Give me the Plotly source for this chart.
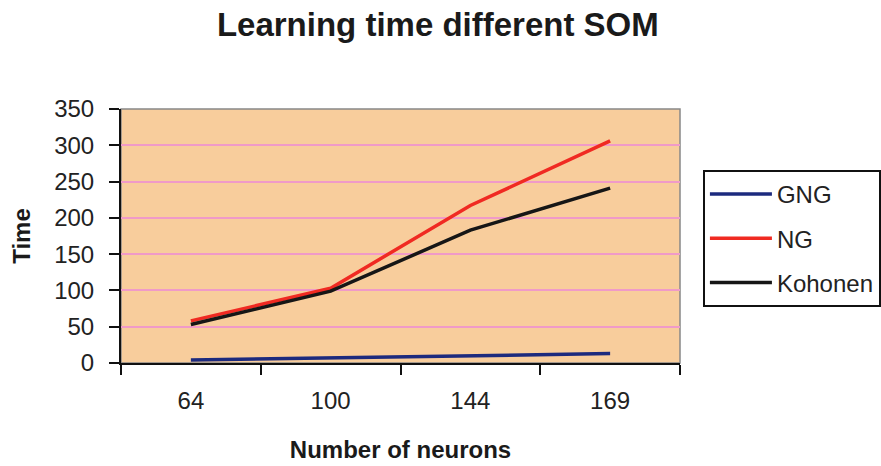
import plotly.graph_objects as go

neurons = ["64", "100", "144", "169"]
gng = [4, 7, 11, 13]
ng = [58, 103, 217, 306]
kohonen = [53, 99, 183, 241]
y_ticks = [0, 50, 100, 150, 200, 250, 300, 350]

fig = go.Figure()
series = [("GNG", gng, "#1c2a7e"), ("NG", ng, "#f02a22"), ("Kohonen", kohonen, "#161616")]
for i, (name, vals, col) in enumerate(series):
    fig.add_trace(go.Scatter(x=neurons, y=vals, name=name, mode="lines",
                             line=dict(color=col, width=3.5), legendgroup=str(i)))

font_family = "Liberation Sans, Arial, sans-serif"
fig.update_layout(
    width=881, height=466,
    margin=dict(l=121, r=201, t=109, b=103, autoexpand=False),
    paper_bgcolor="white",
    plot_bgcolor="#f8cd9c",
    title=dict(text="<b>Learning time different SOM</b>", x=0.497, xanchor="center",
               y=0.948, yanchor="middle",
               font=dict(family=font_family, size=33, color="#1a1a1a")),
    xaxis=dict(type="category", range=[-0.5, 3.5], tickson="boundaries",
               ticks="outside", ticklen=10, tickwidth=2, tickcolor="#111",
               ticklabelstandoff=15,
               showline=True, linecolor="#111", linewidth=2,
               showgrid=False, mirror=False,
               tickfont=dict(family=font_family, size=24, color="#222"),
               title=dict(text="<b>Number of neurons</b>", standoff=28,
                          font=dict(family=font_family, size=24, color="#1a1a1a"))),
    yaxis=dict(range=[0, 350], tickvals=y_ticks,
               ticks="outside", ticklen=10, tickwidth=2, tickcolor="#111",
               ticklabelstandoff=10,
               showline=True, linecolor="#111", linewidth=2,
               showgrid=True, gridcolor="#f09ac8", gridwidth=2,
               zeroline=False,
               tickfont=dict(family=font_family, size=24, color="#222"),
               title=dict(text="<b>Time</b>", standoff=17,
                          font=dict(family=font_family, size=24, color="#1a1a1a"))),
    legend=dict(x=1.041, y=0.76, xanchor="left", yanchor="top",
                bordercolor="#111", borderwidth=2, bgcolor="white",
                tracegroupgap=10, itemwidth=62,
                font=dict(family=font_family, size=24, color="#222")),
    showlegend=True,
)
fig.add_shape(type="rect", xref="paper", yref="paper", x0=0, y0=0, x1=1, y1=1,
              line=dict(color="#888", width=1.5), layer="below")

fig.write_html("out.html", config={"displayModeBar": False},
               post_script="document.body.style.margin='0';")
